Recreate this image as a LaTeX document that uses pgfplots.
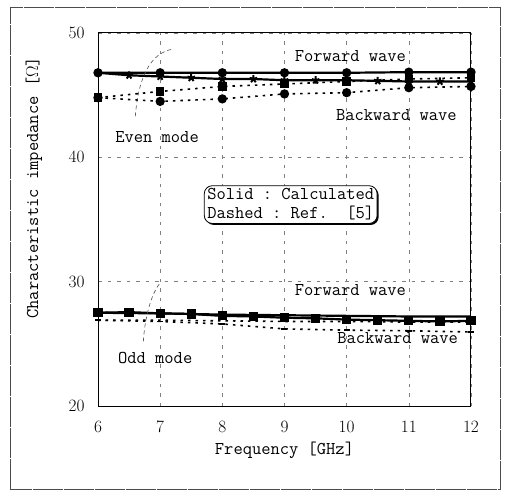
\documentclass[border=0pt]{standalone}
\usepackage{pgfplots}
\pgfplotsset{compat=1.18}
\usetikzlibrary{shadows}
\begin{document}
\begin{tikzpicture}[x=1pt,y=1pt]
\useasboundingbox (0,0) rectangle (506,490);
\draw[line width=0.6pt, black!70, dash pattern=on 30pt off 1pt] (10,1) rectangle (500,483);
\begin{axis}[
  at={(98pt,84pt)}, anchor=south west,
  scale only axis, width=373pt, height=373pt,
  xmin=6, xmax=12, ymin=20, ymax=50,
  xtick={6,7,...,12}, ytick={20,30,40,50},
  tick style={draw=none},
  axis line style={line width=1pt},
  grid=major,
  major grid style={black!50, line width=0.5pt, dash pattern=on 3.5pt off 6pt},
  every tick label/.append style={font=\fontsize{19}{22}\selectfont},
  xticklabel style={yshift=-12pt},
  yticklabel style={xshift=-10pt},
  xlabel={\ttfamily\fontsize{18}{20}\selectfont Frequency [GHz]},
  xlabel style={yshift=-2pt},
  every axis y label/.style={at={(axis description cs:-0.172,0.585)}, rotate=90, anchor=center},
  ylabel={\ttfamily\fontsize{18}{20}\selectfont Characteristic impedance [$\Omega$]},
  clip=false,
]
% Even mode
\addplot[black, line width=2.2pt, mark=*, mark size=3.5pt] coordinates {
 (6,46.8) (7,46.8) (8,46.8) (9,46.8) (10,46.8) (11,46.85) (12,46.85)};
\addplot[black, line width=2.2pt, mark=star, mark size=4pt, mark options={line width=2pt}] coordinates {
 (6,46.8) (6.5,46.6) (7,46.5) (7.5,46.4) (8,46.3) (8.5,46.3) (9,46.2) (9.5,46.2) (10,46.2) (10.5,46.15) (11,46.1) (11.5,46.1) (12,46.1)};
\addplot[black, line width=1.6pt, dash pattern=on 2.5pt off 5pt, mark=square*, mark size=3.5pt, mark options={solid}] coordinates {
 (6,44.8) (7,45.3) (8,45.7) (9,45.9) (10,46.1) (11,46.3) (12,46.4)};
\addplot[black, line width=1.6pt, dash pattern=on 2.5pt off 5pt, mark=*, mark size=3.8pt, mark options={solid}] coordinates {
 (6,44.8) (7,44.5) (8,44.7) (9,45.1) (10,45.2) (11,45.6) (12,45.7)};
% Odd mode
\addplot[black, line width=2.2pt] coordinates {
 (6,27.5) (7,27.45) (8,27.35) (9,27.3) (10,27.25) (11,27.2) (12,27.2)};
\addplot[black, line width=2.2pt, mark=square*, mark size=3.5pt] coordinates {
 (6,27.5) (6.5,27.55) (7,27.45) (7.5,27.4) (8,27.25) (8.5,27.2) (9,27.1) (9.5,27.05) (10,26.95) (10.5,26.9) (11,26.85) (11.5,26.8) (12,26.85)};
\addplot[black, line width=1.6pt, dash pattern=on 2.5pt off 5pt] coordinates {
 (6,26.9) (7,26.9) (8,26.85) (9,26.8) (10,26.8) (11,26.75) (12,26.75)};
\addplot[black, line width=1.6pt, dash pattern=on 2.5pt off 5pt, mark=-, mark size=3pt, mark options={solid}] coordinates {
 (6,26.9) (7,26.8) (8,26.6) (9,26.2) (10,26.1) (11,26.05) (12,25.95)};
% annotations
\draw[black!70, line width=0.6pt, dash pattern=on 4pt off 3pt] (axis cs:6.6,43.3) .. controls (axis cs:6.65,46.5) and (axis cs:6.85,48.4) .. (axis cs:7.2,48.7);
\draw[black!70, line width=0.6pt, dash pattern=on 4pt off 3pt] (axis cs:6.73,25.2) .. controls (axis cs:6.75,27) and (axis cs:6.85,29) .. (axis cs:7.0,29.9);
\node[font=\ttfamily\fontsize{18}{20}\selectfont] at (axis cs:10.06,48.15) {Forward wave};
\node[font=\ttfamily\fontsize{18}{20}\selectfont] at (axis cs:10.8,43.4) {Backward wave};
\node[font=\ttfamily\fontsize{18}{20}\selectfont] at (axis cs:6.95,41.6) {Even mode};
\node[font=\ttfamily\fontsize{18}{20}\selectfont] at (axis cs:10.06,29.3) {Forward wave};
\node[font=\ttfamily\fontsize{18}{20}\selectfont] at (axis cs:10.82,25.5) {Backward wave};
\node[font=\ttfamily\fontsize{18}{20}\selectfont] at (axis cs:6.92,23.9) {Odd mode};
\node[draw, fill=white, rounded corners=8pt, line width=0.8pt, inner sep=3pt, align=left,
  drop shadow={shadow xshift=1.5pt, shadow yshift=-1.5pt, opacity=1, fill=black},
  font=\ttfamily\fontsize{18}{19}\selectfont] at (axis cs:9.1,36.2)
  {Solid\ :\ Calculated\\Dashed\ :\ Ref.\ \ [5]};
\end{axis}
\end{tikzpicture}
\end{document}
